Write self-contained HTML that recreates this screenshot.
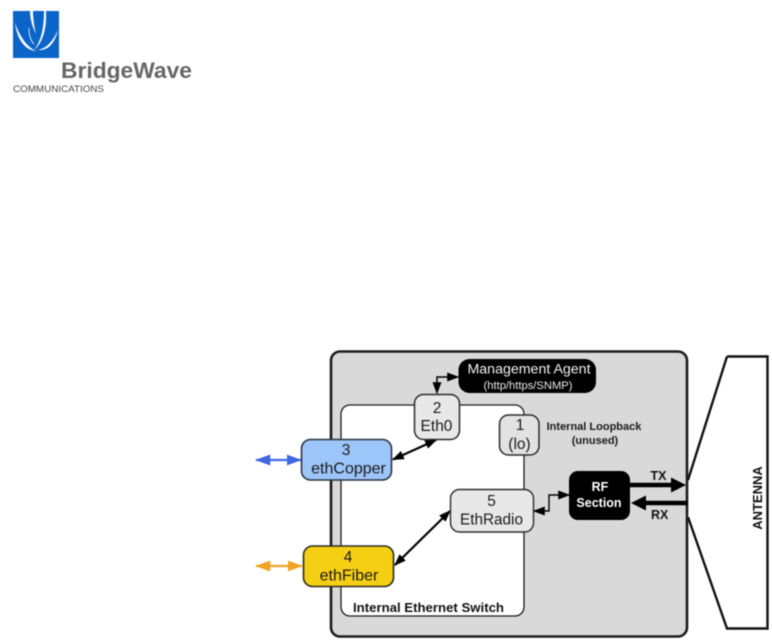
<!DOCTYPE html>
<html>
<head>
<meta charset="utf-8">
<style>
html,body{margin:0;padding:0;background:#fff;}
svg{display:block;filter:blur(0.45px);}
text{font-family:"Liberation Sans",sans-serif;}
</style>
</head>
<body>
<svg width="772" height="640" viewBox="0 0 772 640" xmlns="http://www.w3.org/2000/svg">
<defs>
<marker id="k" viewBox="0 0 10 10" preserveAspectRatio="none" refX="9" refY="5" markerWidth="12" markerHeight="9" markerUnits="userSpaceOnUse" orient="auto-start-reverse"><path d="M0 0L10 5L0 10z" fill="#000"/></marker>
<marker id="b" viewBox="0 0 10 10" preserveAspectRatio="none" refX="9.5" refY="5" markerWidth="15" markerHeight="11" markerUnits="userSpaceOnUse" orient="auto-start-reverse"><path d="M0 0L10 5L0 10z" fill="#3f67e0"/></marker>
<marker id="o" viewBox="0 0 10 10" preserveAspectRatio="none" refX="9.5" refY="5" markerWidth="15" markerHeight="11" markerUnits="userSpaceOnUse" orient="auto-start-reverse"><path d="M0 0L10 5L0 10z" fill="#f0a324"/></marker>
</defs>

<!-- logo -->
<rect x="13" y="11" width="46" height="47" fill="#0b64c8"/>
<g fill="#fff">
<path d="M15 23C17 38 24 50 36 51C27 47 20 37 15 23z"/>
<path d="M46 11L44 11C44 26 42 40 34 50C43 43 47 27 46 11z"/>
<path d="M58 30C53 41 47 48 38 50C49 51 55 42 58 30z"/>
<path d="M33 11L30 11C30 20 33 28 36 34C34 26 33 18 33 11z"/>
</g>
<path d="M29 28C29 36 31 41 34 44" fill="none" stroke="#fff" stroke-width="0.8"/>
<text x="61" y="78" font-size="22.5" font-weight="bold" fill="#666" textLength="131" lengthAdjust="spacingAndGlyphs">BridgeWave</text>
<text x="13" y="92" font-size="9.5" fill="#444" textLength="91" lengthAdjust="spacingAndGlyphs">COMMUNICATIONS</text>

<!-- main box -->
<rect x="331" y="351.500" width="356" height="285" rx="9" fill="#d9d9d9" stroke="#1c1c1c" stroke-width="2.600"/>
<rect x="341" y="405" width="183" height="211" rx="9" fill="#fff" stroke="#1c1c1c" stroke-width="1.300"/>

<!-- antenna -->
<path d="M727 356.500H767.500V628.500H727L688 517M688 480L727 356.500" fill="#fff" stroke="#111" stroke-width="2.400"/>
<text transform="translate(762,498) rotate(-90)" font-size="13" font-weight="bold" text-anchor="middle" fill="#111">ANTENNA</text>

<!-- connectors -->
<path d="M437 393V377H458" fill="none" stroke="#000" stroke-width="1.500" marker-start="url(#k)" marker-end="url(#k)"/>
<path d="M393 459.500L436 440" fill="none" stroke="#000" stroke-width="2.200" marker-start="url(#k)" marker-end="url(#k)"/>
<path d="M395 565L450 511" fill="none" stroke="#000" stroke-width="2.200" marker-start="url(#k)" marker-end="url(#k)"/>
<path d="M534 511H549V495H569" fill="none" stroke="#000" stroke-width="1.400" marker-start="url(#k)" marker-end="url(#k)"/>
<path d="M256 460H301" fill="none" stroke="#3f67e0" stroke-width="2.200" marker-start="url(#b)" marker-end="url(#b)"/>
<path d="M256 566H302" fill="none" stroke="#f0a324" stroke-width="2.200" marker-start="url(#o)" marker-end="url(#o)"/>

<!-- TX / RX -->
<path d="M630 485H672" stroke="#000" stroke-width="4.500" fill="none"/>
<path d="M686 485L671 477.500V492.500z" fill="#000"/>
<path d="M688 503H645" stroke="#000" stroke-width="4.500" fill="none"/>
<path d="M631 503L646 495.500V510.500z" fill="#000"/>
<text x="650.500" y="480" font-size="12.500" font-weight="bold" fill="#111">TX</text>
<text x="651" y="519" font-size="12.500" font-weight="bold" fill="#111">RX</text>

<!-- nodes -->
<rect x="458.500" y="359" width="137.500" height="34" rx="11" fill="#000"/>
<text x="529" y="373.500" font-size="14.200" fill="#f2f2f2" text-anchor="middle">Management Agent</text>
<text x="528" y="389" font-size="11.200" fill="#e8e8e8" text-anchor="middle">(http/https/SNMP)</text>

<rect x="414.500" y="394.500" width="45" height="45" rx="9" fill="#e8e8e8" stroke="#2b2b2b" stroke-width="1.500"/>
<text x="437" y="413" font-size="15.500" fill="#1a1a1a" text-anchor="middle">2</text>
<text x="436.500" y="431" font-size="15.500" fill="#1a1a1a" text-anchor="middle">Eth0</text>

<rect x="499.500" y="415" width="39.500" height="40" rx="9" fill="#e2e2e2" stroke="#2b2b2b" stroke-width="1.500"/>
<text x="520" y="430" font-size="15.500" fill="#1a1a1a" text-anchor="middle">1</text>
<text x="519.500" y="449" font-size="15.500" fill="#1a1a1a" text-anchor="middle">(lo)</text>

<text x="594" y="430" font-size="11" font-weight="bold" fill="#1a1a1a" text-anchor="middle">Internal Loopback</text>
<text x="595" y="444" font-size="11" font-weight="bold" fill="#1a1a1a" text-anchor="middle">(unused)</text>

<rect x="301.500" y="439.500" width="90" height="40.500" rx="9" fill="#9cc5fa" stroke="#2b3440" stroke-width="1.600"/>
<text x="346" y="455" font-size="15.500" fill="#1a1a1a" text-anchor="middle">3</text>
<text x="348.500" y="473.500" font-size="16" fill="#1a1a1a" text-anchor="middle">ethCopper</text>

<rect x="303.500" y="546" width="90" height="40.500" rx="9" fill="#f5cf14" stroke="#2b2b20" stroke-width="1.600"/>
<text x="348" y="562" font-size="15.500" fill="#1a1a1a" text-anchor="middle">4</text>
<text x="349" y="580.500" font-size="16" fill="#1a1a1a" text-anchor="middle">ethFiber</text>

<rect x="450.500" y="489.500" width="83" height="42.500" rx="9" fill="#e8e8e8" stroke="#2b2b2b" stroke-width="1.400"/>
<text x="491.500" y="506" font-size="15.500" fill="#1a1a1a" text-anchor="middle">5</text>
<text x="491.500" y="524.500" font-size="15.300" fill="#1a1a1a" text-anchor="middle">EthRadio</text>

<rect x="569" y="471" width="61" height="49" rx="9" fill="#000"/>
<text x="600" y="491" font-size="12.500" font-weight="bold" fill="#fff" text-anchor="middle">RF</text>
<text x="599" y="507" font-size="12.500" font-weight="bold" fill="#fff" text-anchor="middle">Section</text>

<text x="353" y="612" font-size="13" font-weight="bold" fill="#111" textLength="151" lengthAdjust="spacingAndGlyphs">Internal Ethernet Switch</text>
</svg>
</body>
</html>
